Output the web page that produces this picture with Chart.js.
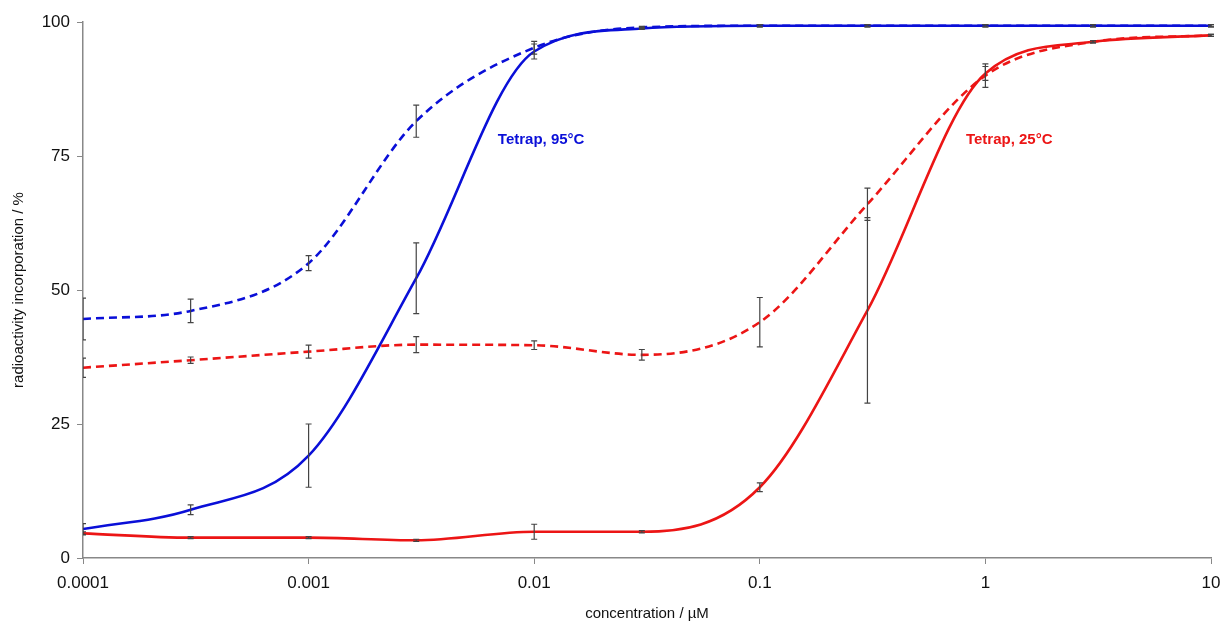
<!DOCTYPE html>
<html>
<head>
    <title>Tetrap incorporation</title>
    <script src="https://cdn.jsdelivr.net/npm/chart.js"></script>
    <style>
        html, body { margin: 0; padding: 0; background: #fff; }
        .chart-container { width: 1224px; height: 623px; }
    </style>
</head>
<body>
    <div class="chart-container">
        <canvas id="curveChart"></canvas>
    </div>
    <script>
        // concentrations (µM)
        const conc = [0.0001, 0.0003, 0.001, 0.003, 0.01, 0.03, 0.1, 0.3, 1, 3, 10];
        const xTicks = [0.0001, 0.001, 0.01, 0.1, 1, 10];
        const yTicks = [0, 25, 50, 75, 100];

        // 95°C, solid and dashed
        const hotSolid = [5.4, 9.0, 19.1, 52.2, 94.5, 98.8, 99.3, 99.3, 99.3, 99.3, 99.3];
        const hotSolidErr = [1.0, 0.9, 5.9, 6.6, 1.4, 0.2, 0.2, 0.2, 0.2, 0.2, 0.2];
        const hotDashed = [44.6, 46.1, 55.0, 81.5, 95.2, 99.0, 99.3, 99.3, 99.3, 99.3, 99.3];
        const hotDashedErr = [3.9, 2.2, 1.4, 3.0, 1.2, 0.2, 0.2, 0.2, 0.2, 0.2, 0.2];

        // 25°C, solid and dashed
        const roomSolid = [4.6, 3.8, 3.8, 3.3, 4.9, 4.9, 13.2, 46.2, 90.4, 96.3, 97.5];
        const roomSolidErr = [0.3, 0.2, 0.2, 0.2, 1.4, 0.2, 0.8, 17.3, 1.3, 0.2, 0.2];
        const roomDashed = [35.5, 36.9, 38.5, 39.8, 39.7, 37.9, 44.0, 66.0, 90.0, 96.3, 97.5];
        const roomDashedErr = [1.8, 0.6, 1.2, 1.5, 0.8, 1.0, 4.6, 3.0, 2.2, 0.2, 0.2];

        const blue = '#0a0fd8';
        const red = '#ec1515';
        const font = "'Liberation Sans', Arial, sans-serif";

        function pts(vals) {
            return conc.map((x, i) => ({ x: x, y: vals[i] }));
        }

        function series(vals, errs, color, dashed) {
            return {
                data: pts(vals),
                errors: errs,
                borderColor: color,
                borderWidth: 2.6,
                borderDash: dashed ? [8, 5] : [],
                pointRadius: 0,
                cubicInterpolationMode: 'monotone',
                fill: false
            };
        }

        // draws the error bars with the chart's scales
        const errorBars = {
            id: 'errorBars',
            afterDatasetsDraw(chart) {
                const ctx = chart.ctx;
                const xs = chart.scales.x, ys = chart.scales.y;
                const area = chart.chartArea;
                ctx.save();
                ctx.beginPath();
                ctx.rect(area.left, 0, area.right - area.left + 4, chart.height);
                ctx.clip();
                ctx.strokeStyle = '#444';
                ctx.lineWidth = 1.2;
                chart.data.datasets.forEach(ds => {
                    ds.data.forEach((p, i) => {
                        const e = ds.errors[i];
                        const px = xs.getPixelForValue(p.x);
                        const top = ys.getPixelForValue(p.y + e);
                        const bot = ys.getPixelForValue(p.y - e);
                        ctx.beginPath();
                        ctx.moveTo(px, top); ctx.lineTo(px, bot);
                        ctx.moveTo(px - 3, top); ctx.lineTo(px + 3, top);
                        ctx.moveTo(px - 3, bot); ctx.lineTo(px + 3, bot);
                        ctx.stroke();
                    });
                });
                ctx.restore();
            }
        };

        // curve labels placed in data coordinates
        const curveLabels = {
            id: 'curveLabels',
            afterDatasetsDraw(chart) {
                const ctx = chart.ctx;
                const xs = chart.scales.x, ys = chart.scales.y;
                ctx.save();
                ctx.font = 'bold 15px ' + font;
                ctx.textBaseline = 'middle';
                ctx.textAlign = 'left';
                ctx.fillStyle = blue;
                ctx.fillText('Tetrap, 95°C', xs.getPixelForValue(0.0069), ys.getPixelForValue(78));
                ctx.fillStyle = red;
                ctx.fillText('Tetrap, 25°C', xs.getPixelForValue(0.82), ys.getPixelForValue(78));
                ctx.restore();
            }
        };

        const ctx = document.getElementById('curveChart').getContext('2d');
        new Chart(ctx, {
            type: 'line',
            data: {
                datasets: [
                    series(hotDashed, hotDashedErr, blue, true),
                    series(roomDashed, roomDashedErr, red, true),
                    series(hotSolid, hotSolidErr, blue, false),
                    series(roomSolid, roomSolidErr, red, false)
                ]
            },
            options: {
                responsive: true,
                maintainAspectRatio: false,
                animation: false,
                layout: { padding: { top: 22, right: 7, left: 10, bottom: 0 } },
                plugins: {
                    legend: { display: false },
                    tooltip: { enabled: false }
                },
                scales: {
                    x: {
                        type: 'logarithmic',
                        min: 0.0001,
                        max: 10,
                        afterBuildTicks(scale) {
                            scale.ticks = xTicks.map(v => ({ value: v }));
                        },
                        afterFit(scale) {
                            scale.height = 65;
                            scale.paddingRight = 13;
                        },
                        ticks: {
                            color: '#111',
                            font: { family: font, size: 17 },
                            padding: 9,
                            maxRotation: 0,
                            autoSkip: false,
                            callback: v => String(v)
                        },
                        grid: {
                            drawOnChartArea: false,
                            color: '#888',
                            tickLength: 6
                        },
                        border: { color: '#888', width: 1.5 },
                        title: {
                            display: true,
                            text: 'concentration / µM',
                            color: '#111',
                            font: { family: font, size: 15 },
                            padding: { top: 6, bottom: 0 }
                        }
                    },
                    y: {
                        min: 0,
                        max: 100,
                        afterBuildTicks(scale) {
                            scale.ticks = yTicks.map(v => ({ value: v }));
                        },
                        afterFit(scale) { scale.width = 73; },
                        ticks: {
                            color: '#111',
                            font: { family: font, size: 17 },
                            padding: 7
                        },
                        grid: {
                            drawOnChartArea: false,
                            color: '#888',
                            tickLength: 6
                        },
                        border: { color: '#888', width: 1.5 },
                        title: {
                            display: true,
                            text: 'radioactivity incorporation / %',
                            color: '#111',
                            font: { family: font, size: 15 },
                            padding: { top: 0, bottom: 4 }
                        }
                    }
                }
            },
            plugins: [errorBars, curveLabels]
        });
    </script>
</body>
</html>
